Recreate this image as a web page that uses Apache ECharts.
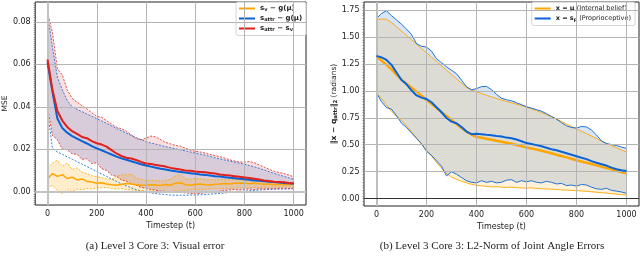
<!DOCTYPE html>
<html><head><meta charset="utf-8">
<script src="https://cdn.jsdelivr.net/npm/echarts@6/dist/echarts.min.js"></script>
<style>html,body{margin:0;padding:0;background:#fff}#c{width:640px;height:266px}</style>
</head><body><div id="c"></div>
<script>
// ---------- data ----------
const steps = [0,20,40,60,80,100,120,140,160,180,200,220,240,260,280,300,320,340,360,380,400,420,440,460,480,500,520,540,560,580,600,620,640,660,680,700,720,740,760,780,800,820,840,860,880,900,920,940,960,980,1000];

// (a) visual error (MSE)
const vMean = [0.0060,0.0085,0.0072,0.0080,0.0062,0.0068,0.0055,0.0060,0.0048,0.0045,
  0.0040,0.0042,0.0036,0.0032,0.0030,0.0034,0.0038,0.0036,0.0033,0.0030,
  0.0030,0.0033,0.0031,0.0029,0.0034,0.0030,0.0040,0.0042,0.0033,0.0030,
  0.0034,0.0036,0.0033,0.0031,0.0035,0.0036,0.0038,0.0036,0.0039,0.0040,
  0.0041,0.0038,0.0040,0.0037,0.0035,0.0036,0.0034,0.0035,0.0033,0.0034,0.0034];
const vUpper = [0.0110,0.0135,0.0148,0.0120,0.0135,0.0105,0.0112,0.0092,0.0085,0.0075,
  0.0070,0.0066,0.0060,0.0058,0.0072,0.0078,0.0080,0.0082,0.0065,0.0058,
  0.0052,0.0055,0.0052,0.0050,0.0053,0.0058,0.0075,0.0082,0.0060,0.0058,
  0.0062,0.0060,0.0058,0.0056,0.0055,0.0058,0.0056,0.0055,0.0058,0.0056,
  0.0055,0.0052,0.0054,0.0050,0.0048,0.0047,0.0045,0.0046,0.0044,0.0043,0.0042];
const vLower = [0.0015,0.0030,0.0005,-0.0008,0.0010,0.0000,0.0012,0.0008,0.0015,0.0012,
  0.0016,0.0018,0.0020,0.0015,0.0012,0.0014,0.0010,0.0008,0.0006,0.0006,
  0.0004,0.0002,0.0001,0.0000,0.0001,0.0000,0.0003,0.0002,0.0005,0.0008,
  0.0010,0.0009,0.0011,0.0013,0.0012,0.0014,0.0016,0.0015,0.0017,0.0018,
  0.0017,0.0019,0.0020,0.0019,0.0021,0.0020,0.0022,0.0021,0.0023,0.0022,0.0022];

const attrMean = [0.0610,0.0470,0.0345,0.0300,0.0278,0.0262,0.0250,0.0238,0.0227,0.0215,
  0.0204,0.0195,0.0185,0.0175,0.0165,0.0157,0.0150,0.0143,0.0136,0.0129,
  0.0123,0.0118,0.0113,0.0108,0.0104,0.0100,0.0096,0.0093,0.0090,0.0087,
  0.0084,0.0081,0.0079,0.0076,0.0073,0.0071,0.0068,0.0065,0.0063,0.0061,
  0.0058,0.0056,0.0053,0.0051,0.0049,0.0047,0.0045,0.0043,0.0041,0.0039,0.0037];
const attrUpper = [0.0838,0.0680,0.0540,0.0480,0.0430,0.0400,0.0388,0.0377,0.0366,0.0355,
  0.0344,0.0333,0.0322,0.0310,0.0298,0.0287,0.0276,0.0265,0.0255,0.0245,
  0.0236,0.0229,0.0224,0.0218,0.0212,0.0207,0.0202,0.0197,0.0192,0.0187,
  0.0182,0.0177,0.0172,0.0166,0.0160,0.0154,0.0149,0.0144,0.0139,0.0134,
  0.0129,0.0123,0.0117,0.0110,0.0102,0.0094,0.0086,0.0079,0.0072,0.0065,0.0058];
const attrLower = [0.0380,0.0205,0.0187,0.0176,0.0164,0.0153,0.0141,0.0130,0.0118,0.0107,
  0.0095,0.0083,0.0072,0.0060,0.0048,0.0037,0.0027,0.0018,0.0010,0.0003,
  -0.0002,-0.0006,-0.0009,-0.0012,-0.0014,-0.0016,-0.0017,-0.0017,-0.0017,-0.0016,
  -0.0016,-0.0015,-0.0014,-0.0012,-0.0010,-0.0008,-0.0006,-0.0004,-0.0002,0.0000,
  0.0002,0.0004,0.0006,0.0008,0.0009,0.0010,0.0011,0.0012,0.0012,0.0013,0.0014];

const attrVMean = [0.0623,0.0480,0.0380,0.0335,0.0305,0.0285,0.0272,0.0258,0.0252,0.0238,
  0.0228,0.0222,0.0212,0.0196,0.0180,0.0168,0.0160,0.0156,0.0149,0.0140,
  0.0133,0.0130,0.0126,0.0122,0.0118,0.0112,0.0108,0.0104,0.0100,0.0098,
  0.0095,0.0093,0.0091,0.0088,0.0085,0.0081,0.0078,0.0076,0.0073,0.0070,
  0.0067,0.0064,0.0061,0.0057,0.0053,0.0050,0.0047,0.0046,0.0044,0.0041,0.0039];
const attrVUpper = [0.0847,0.0750,0.0580,0.0550,0.0480,0.0440,0.0422,0.0405,0.0390,0.0372,
  0.0355,0.0350,0.0335,0.0318,0.0305,0.0296,0.0285,0.0268,0.0250,0.0245,
  0.0252,0.0262,0.0258,0.0245,0.0232,0.0225,0.0218,0.0214,0.0205,0.0196,
  0.0190,0.0187,0.0182,0.0175,0.0170,0.0165,0.0158,0.0150,0.0144,0.0140,
  0.0139,0.0142,0.0136,0.0126,0.0115,0.0105,0.0096,0.0090,0.0085,0.0078,0.0070];
const attrVLower = [0.0400,0.0265,0.0245,0.0200,0.0198,0.0178,0.0176,0.0152,0.0155,0.0132,
  0.0136,0.0108,0.0100,0.0078,0.0072,0.0055,0.0050,0.0036,0.0030,0.0020,
  0.0016,0.0010,0.0007,0.0002,0.0001,-0.0002,-0.0004,-0.0002,-0.0006,-0.0008,
  -0.0010,-0.0008,-0.0005,-0.0004,-0.0001,0.0002,0.0005,0.0008,0.0010,0.0007,
  0.0011,0.0012,0.0010,0.0013,0.0012,0.0014,0.0013,0.0015,0.0016,0.0015,0.0016];

// (b) joint angle error norm
const muMean = [1.323,1.282,1.242,1.200,1.152,1.105,1.068,1.030,0.992,0.955,
  0.915,0.880,0.842,0.803,0.766,0.729,0.692,0.656,0.621,0.595,
  0.574,0.564,0.555,0.546,0.536,0.527,0.518,0.508,0.498,0.487,
  0.474,0.464,0.455,0.444,0.432,0.420,0.407,0.395,0.382,0.369,
  0.356,0.344,0.332,0.320,0.308,0.296,0.284,0.271,0.258,0.246,0.233];
const muUpper = [1.665,1.668,1.665,1.636,1.597,1.557,1.517,1.476,1.436,1.395,
  1.355,1.315,1.274,1.234,1.193,1.153,1.113,1.072,1.032,1.010,
  0.992,0.975,0.960,0.945,0.930,0.915,0.902,0.890,0.877,0.864,
  0.850,0.834,0.817,0.799,0.780,0.760,0.738,0.716,0.693,0.670,
  0.647,0.625,0.603,0.580,0.557,0.533,0.512,0.492,0.471,0.451,0.430];
const muLower = [0.980,0.930,0.870,0.810,0.765,0.725,0.675,0.620,0.560,0.505,
  0.445,0.395,0.335,0.280,0.232,0.200,0.178,0.160,0.145,0.132,
  0.122,0.118,0.112,0.108,0.110,0.105,0.102,0.106,0.100,0.098,
  0.096,0.098,0.094,0.090,0.088,0.086,0.083,0.080,0.078,0.075,
  0.072,0.070,0.066,0.062,0.058,0.054,0.050,0.045,0.040,0.036,0.032];

const spMean = [1.325,1.312,1.288,1.242,1.172,1.102,1.062,1.005,0.958,0.938,
  0.925,0.895,0.848,0.802,0.748,0.715,0.700,0.665,0.622,0.598,
  0.602,0.598,0.592,0.588,0.580,0.576,0.566,0.560,0.548,0.532,
  0.515,0.506,0.496,0.486,0.472,0.458,0.449,0.434,0.420,0.406,
  0.392,0.378,0.366,0.347,0.332,0.319,0.306,0.287,0.272,0.263,0.255];
const spUpper = [1.673,1.720,1.745,1.700,1.660,1.620,1.575,1.525,1.440,1.415,
  1.408,1.370,1.300,1.262,1.225,1.192,1.160,1.100,1.040,1.010,
  1.022,1.040,1.042,1.012,0.968,0.932,0.918,0.908,0.890,0.872,
  0.853,0.840,0.826,0.812,0.788,0.762,0.738,0.705,0.675,0.660,
  0.655,0.670,0.665,0.636,0.590,0.535,0.510,0.502,0.492,0.478,0.466];
const spLower = [0.982,0.900,0.845,0.830,0.770,0.700,0.660,0.610,0.560,0.510,
  0.440,0.400,0.350,0.300,0.210,0.248,0.225,0.195,0.165,0.150,
  0.145,0.165,0.150,0.160,0.145,0.150,0.170,0.175,0.150,0.165,
  0.155,0.165,0.150,0.145,0.160,0.150,0.135,0.140,0.120,0.125,
  0.115,0.130,0.125,0.105,0.090,0.085,0.095,0.075,0.068,0.060,0.048];

// ticks
const xTicks = [0,200,400,600,800,1000];
const yTicksA = [0,0.02,0.04,0.06,0.08];
const yTicksB = [0,0.25,0.5,0.75,1.0,1.25,1.5,1.75];
const yMinorA = []; for (let k = -6; k <= 89; k++) yMinorA.push(k / 1000);
const yMinorB = []; for (let k = -2; k <= 73; k++) yMinorB.push(k * 0.025);

// ---------- chart ----------
const COL = {orange:'#ffa500', blue:'#0b63d4', red:'#e0201c'};
const FONT = 'DejaVu Sans';
const pairs = arr => steps.map((t,i)=>[t,arr[i]]);

function band(g, lo, up, color){
  return {type:'custom', xAxisIndex:g, yAxisIndex:g*2, silent:true, z:1, clip:true,
    data:[[steps[0], lo[0]]],
    renderItem:function(params, api){
      const pts = [];
      for (let i = 0; i < steps.length; i++) pts.push(api.coord([steps[i], lo[i]]));
      for (let i = steps.length - 1; i >= 0; i--) pts.push(api.coord([steps[i], up[i]]));
      return {type:'polygon', shape:{points:pts}, style:{fill:color}};
    }};
}
function bound(g, arr, color, dashed){
  return {type:'line', xAxisIndex:g, yAxisIndex:g*2, data:pairs(arr), symbol:'none', silent:true, z:3,
    lineStyle:{color:color, width:dashed?0.8:0.9, type:dashed?[2,1.5]:'solid'}};
}
function mean(name, g, arr, color, w, z){
  return {type:'line', name:name, xAxisIndex:g, yAxisIndex:g*2, data:pairs(arr), symbol:'none', z:z||4,
    lineStyle:{color:color, width:w}, itemStyle:{color:color}};
}
function gridLines(g, yt){
  const d = xTicks.map(v=>({xAxis:v})).concat(yt.map(v=>({yAxis:v})));
  return {type:'line', xAxisIndex:g, yAxisIndex:g*2, data:[], silent:true, z:2,
    markLine:{silent:true, symbol:['none','none'], label:{show:false}, animation:false,
      lineStyle:{color:'#b4b4b4', width:1, type:'solid'}, data:d}};
}
function zeroLines(g, list, color, w){
  return {type:'line', xAxisIndex:g, yAxisIndex:g*2, data:[], silent:true, z:2,
    markLine:{silent:true, symbol:['none','none'], label:{show:false}, animation:false,
      lineStyle:{color:color, width:w, type:'solid'}, data:list}};
}

function xAxis(g){
  return {gridIndex:g, type:'value', min:-50, max:1050,
    axisLine:{show:false}, splitLine:{show:false},
    axisTick:{customValues:xTicks, length:3.5, lineStyle:{color:'#222', width:0.8}},
    axisLabel:{customValues:xTicks, fontSize:8, fontFamily:FONT, color:'#222', margin:4.5,
      formatter:v=>String(v)},
    name:'Timestep (t)', nameLocation:'middle', nameGap:14.5,
    nameTextStyle:{fontSize:8, fontFamily:FONT, color:'#222'}};
}
function yAxisMain(g, min, max, ticks, name, gap, rich){
  return {gridIndex:g, type:'value', min:min, max:max, position:'left',
    axisLine:{show:false}, splitLine:{show:false},
    axisTick:{customValues:ticks, length:3.5, lineStyle:{color:'#222', width:0.8}},
    axisLabel:{customValues:ticks, fontSize:8, fontFamily:FONT, color:'#222', margin:4.5,
      formatter:v=>v.toFixed(2)},
    name:name, nameLocation:'middle', nameGap:gap, nameRotate:90,
    nameTextStyle:{fontSize:7.5, fontFamily:FONT, color:'#222', rich:rich}};
}
function yAxisMinor(g, min, max, ticks){
  return {gridIndex:g, type:'value', min:min, max:max, position:'left',
    axisLine:{show:false}, splitLine:{show:false}, axisLabel:{show:false},
    axisTick:{customValues:ticks, length:1.6, lineStyle:{color:'#555', width:0.5}}};
}

function richSet(fs){
  return {
    b:{fontFamily:FONT, fontWeight:'bold', fontSize:fs, color:'#222'},
    s:{fontFamily:FONT, fontWeight:'bold', fontSize:fs*0.72, color:'#222', padding:[3,0,0,0]},
    n:{fontFamily:FONT, fontSize:fs, color:'#222'}
  };
}
const legendText = {
  vMean:'{b|s}{s|v}{b| \u2212 g(\u03bc)}',
  attrMean:'{b|s}{s|attr}{b| \u2212 g(\u03bc)}',
  attrVMean:'{b|s}{s|attr}{b| \u2212 s}{s|v}',
  muMean:'{b|x = \u03bc} {n|(Internal belief)}',
  spMean:'{b|x = s}{s|p} {n|(Proprioceptive)}'
};
function legend(pos, names, fs, gap){
  return Object.assign({orient:'vertical', data:names, icon:'rect', itemWidth:16, itemHeight:2,
    itemGap:gap, padding:[3,4,3,3], borderColor:'#cccccc', borderWidth:0.8, borderRadius:2,
    backgroundColor:'rgba(255,255,255,0.85)', selectedMode:false,
    formatter:n=>legendText[n], textStyle:{fontSize:fs, fontFamily:FONT, color:'#222', rich:richSet(fs)}}, pos);
}

const series = [
  band(0, attrVLower, attrUpper, 'rgba(0,110,220,0.15)'),
  band(0, attrVLower, attrVUpper, 'rgba(220,30,30,0.14)'),
  band(0, vLower, vUpper, 'rgba(255,165,0,0.2)'),
  gridLines(0, yTicksA),
  zeroLines(0, [{xAxis:0},{yAxis:0}], '#c2c2c2', 2),
  bound(0, attrUpper, COL.blue, true), bound(0, attrLower, COL.blue, true),
  bound(0, attrVUpper, COL.red, true), bound(0, attrVLower, COL.red, true),
  bound(0, vUpper, COL.orange, true), bound(0, vLower, COL.orange, true),
  mean('vMean', 0, vMean, COL.orange, 1.5, 4), mean('attrMean', 0, attrMean, COL.blue, 2, 5),
  mean('attrVMean', 0, attrVMean, COL.red, 2, 6),
  band(1, spLower, spUpper, 'rgba(10,100,220,0.17)'),
  band(1, muLower, muUpper, 'rgba(255,165,0,0.15)'),
  gridLines(1, yTicksB),
  zeroLines(1, [{xAxis:0}], '#bdbdbd', 2),
  {type:'line', xAxisIndex:1, yAxisIndex:2, data:[], silent:true, z:3,
    markLine:{silent:true, symbol:['none','none'], label:{show:false},
      lineStyle:{color:'#333', width:1.2, type:'solid'}, data:[{yAxis:0}]}},
  bound(1, muUpper, COL.orange, false), bound(1, muLower, COL.orange, false),
  bound(1, spUpper, COL.blue, false), bound(1, spLower, COL.blue, false),
  mean('muMean', 1, muMean, COL.orange, 2.5, 4), mean('spMean', 1, spMean, COL.blue, 2, 5)
];

const chart = echarts.init(document.getElementById('c'), null, {renderer:'canvas'});
chart.setOption({
  animation:false,
  backgroundColor:'#ffffff',
  grid:[
    {left:31, top:2, width:275, height:203, show:true, borderColor:'#222', borderWidth:1, backgroundColor:'transparent'},
    {left:364, top:2, width:275, height:204, show:true, borderColor:'#222', borderWidth:1, backgroundColor:'transparent'}
  ],
  xAxis:[xAxis(0), xAxis(1)],
  yAxis:[
    yAxisMain(0, -0.0063, 0.0894, yTicksA, 'MSE', 23, richSet(7.5)),
    yAxisMinor(0, -0.0063, 0.0894, yMinorA),
    yAxisMain(1, -0.07, 1.827, yTicksB, '{b|\u2016x \u2212 q}{s|attr}{b|\u2016}{s|2}{n| (radians)}', 26, richSet(7.5)),
    yAxisMinor(1, -0.07, 1.827, yMinorB)
  ],
  legend:[legend({left:236, top:2}, ['vMean','attrMean','attrVMean'], 7, 2.5),
          legend({right:5, top:2}, ['muMean','spMean'], 6.5, 3)],
  graphic:[
    {type:'text', x:155, y:246, style:{text:'(a) Level 3 Core 3: Visual error', font:'11px "Liberation Serif"', fill:'#222', align:'center', verticalAlign:'middle'}},
    {type:'text', x:492, y:246, style:{text:'(b) Level 3 Core 3: L2-Norm of Joint Angle Errors', font:'11px "Liberation Serif"', fill:'#222', align:'center', verticalAlign:'middle'}}
  ],
  series:series
});
</script>
</body></html>
